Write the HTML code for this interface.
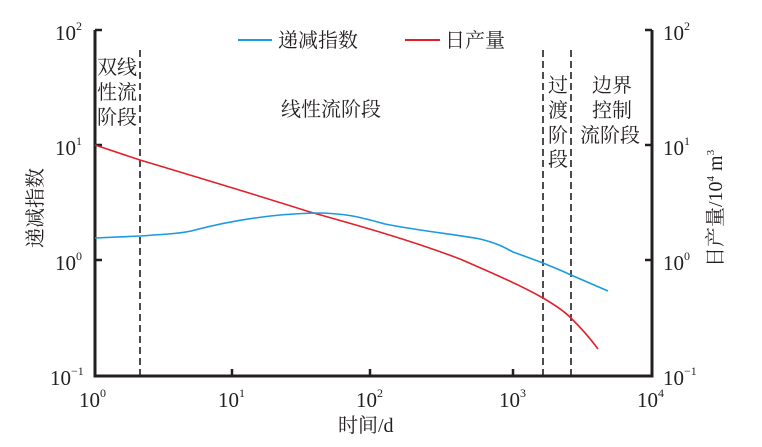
<!DOCTYPE html>
<html><head><meta charset="utf-8"><style>
body{margin:0;background:#fff}
text{font-family:"Liberation Serif","Noto Serif CJK SC",serif;fill:#231f20}
.c{font-family:"Liberation Serif","Noto Serif CJK SC","Noto Sans CJK SC",serif}
</style></head><body>
<svg width="762" height="442" viewBox="0 0 762 442" xmlns="http://www.w3.org/2000/svg">
<g stroke="#231f20" fill="none">
<path d="M95,30 V376 H652 V30" stroke-width="3"/>
<path d="M95,30 h7 M95,145 h7 M95,260 h7 M652,30 h-7 M652,145 h-7 M652,260 h-7 M232,376 v-7 M370,376 v-7 M513,376 v-7" stroke-width="2.5"/>
<path d="M140,50 V376 M543,50 V376 M571,50 V376" stroke-width="1.6" stroke-dasharray="7,4"/>
</g>
<path d="M95,145 L140,160 C200,178 260,196 310,212 C360,226 410,240 460,259 C490,272 520,285 543,298 C555,305 565,312 571,318 C580,327 590,338 598,349" stroke="#e1202a" stroke-width="1.6" fill="none"/>
<path d="M95,238 L140,236 C170,234 185,233 195,230 C230,221 270,214 315,213 C345,213 360,217 385,224 C420,231 460,235 480,239 C500,244 505,248 513,252 C530,258 540,262 543,263 C555,268 565,272 571,275 L608,291" stroke="#1a9ae0" stroke-width="1.6" fill="none"/>
<line x1="238" y1="40" x2="272" y2="40" stroke="#1a9ae0" stroke-width="2"/>
<line x1="405" y1="40" x2="440" y2="40" stroke="#e1202a" stroke-width="2"/>
<g class="c" font-size="20">
<text x="278" y="47">递减指数</text>
<text x="445" y="47">日产量</text>
<text x="97" y="74">双线</text>
<text x="97" y="99">性流</text>
<text x="97" y="124">阶段</text>
<text x="281" y="116">线性流阶段</text>
<text x="548" y="92">过</text>
<text x="548" y="117">渡</text>
<text x="548" y="142">阶</text>
<text x="548" y="166">段</text>
<text x="592" y="92">边界</text>
<text x="592" y="117">控制</text>
<text x="580" y="142">流阶段</text>
<text x="338" y="432">时间/d</text>
<text transform="translate(42,248) rotate(-90)">递减指数</text>
<text transform="translate(722,267) rotate(-90)">日产量/10<tspan font-size="11" dy="-8">4</tspan><tspan dy="8"> m</tspan><tspan font-size="11" dy="-8">3</tspan></text>
</g>
<g font-size="21">
<text x="55" y="40">10<tspan font-size="12" dy="-10">2</tspan></text>
<text x="55" y="155">10<tspan font-size="12" dy="-10">1</tspan></text>
<text x="55" y="270">10<tspan font-size="12" dy="-10">0</tspan></text>
<text x="50" y="385">10<tspan font-size="12" dy="-10">−1</tspan></text>
<text x="663" y="40">10<tspan font-size="12" dy="-10">2</tspan></text>
<text x="663" y="155">10<tspan font-size="12" dy="-10">1</tspan></text>
<text x="663" y="270">10<tspan font-size="12" dy="-10">0</tspan></text>
<text x="663" y="385">10<tspan font-size="12" dy="-10">−1</tspan></text>
<text x="79" y="407">10<tspan font-size="12" dy="-10">0</tspan></text>
<text x="218" y="407">10<tspan font-size="12" dy="-10">1</tspan></text>
<text x="356" y="407">10<tspan font-size="12" dy="-10">2</tspan></text>
<text x="499" y="407">10<tspan font-size="12" dy="-10">3</tspan></text>
<text x="637" y="407">10<tspan font-size="12" dy="-10">4</tspan></text>
</g>
</svg>
</body></html>
